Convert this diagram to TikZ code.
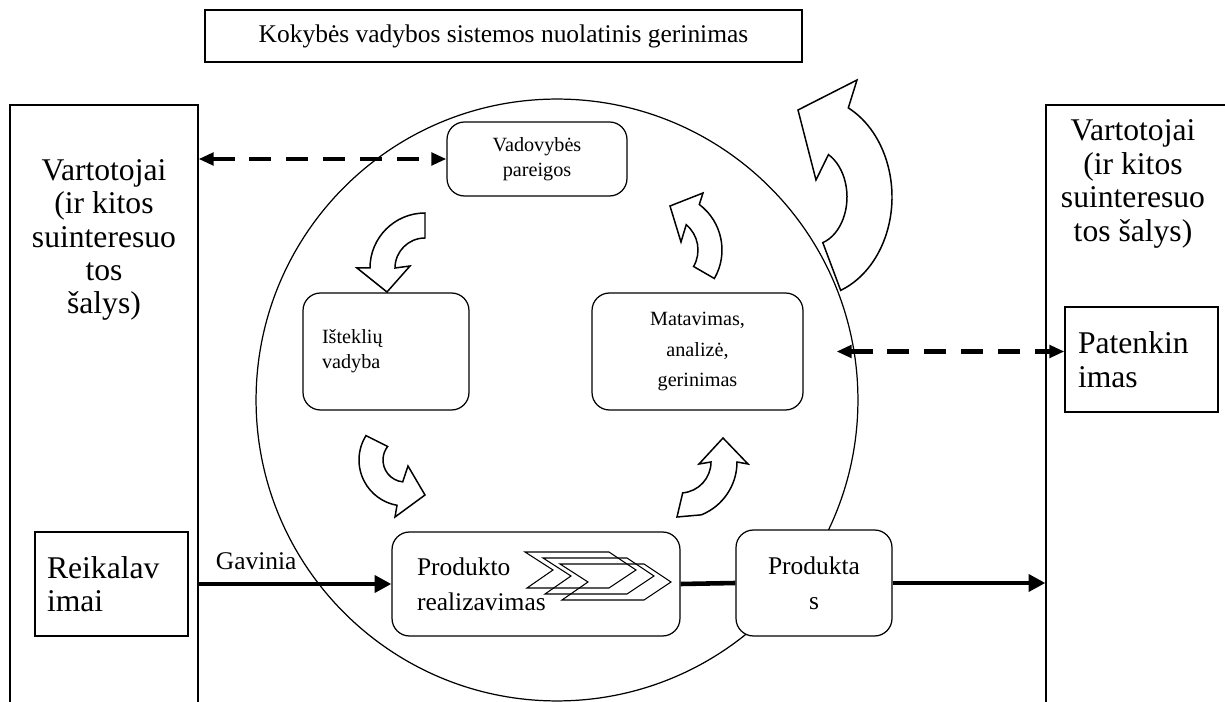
\documentclass[tikz,border=0pt]{standalone}
\usepackage{fontspec}
\setmainfont{Liberation Serif}
\usetikzlibrary{arrows.meta}

\begin{document}
\begin{tikzpicture}[x=0.02cm,y=-0.02cm,line width=0.7pt]
        \tikzstyle{box}=[draw,fill=white,rectangle]
        \tikzstyle{rbox}=[box,rounded corners=0.35cm]
        \tikzstyle{bigtext}=[font=\fontsize{18}{19}\selectfont]
        \tikzstyle{midtext}=[font=\fontsize{14.5}{20}\selectfont]
        \tikzstyle{smalltext}=[font=\fontsize{11.5}{14.2}\selectfont]
        \tikzstyle{blockarrow}=[draw,fill=white,line width=0.85pt]
        \tikzstyle{dashedarrow}=[line width=2.6pt,dash pattern=on 12.5pt off 8.5pt,>={Triangle[length=8.5pt,width=7pt]},<->]
        \tikzstyle{flow}=[line width=2.6pt,->,>={Triangle[length=9.5pt,width=9.5pt]}]
        \useasboundingbox (0,0) rectangle (1225,702);
        \clip (0,0) rectangle (1225,702);
        \node[circle,draw,minimum size=12.04cm] (ring) at (557,400) {};
        \node[box,midtext,minimum width=11.94cm,minimum height=1.04cm] (title) at (503.5,36) {Kokybės vadybos sistemos nuolatinis gerinimas};
        \node[draw,minimum width=3.76cm,minimum height=12.3cm] (custl) at (104,412.5) {};
        \node[bigtext,align=center] (custltxt) at (104,240) {Vartotojai\\(ir kitos\\suinteresuo\\tos\\šalys)};
        \node[draw,minimum width=3.88cm,minimum height=12.3cm] (custr) at (1143,412.5) {};
        \node[bigtext,align=center] (custrtxt) at (1133,184) {Vartotojai\\(ir kitos\\suinteresuo\\tos šalys)};
        \node[rbox,smalltext,align=center,minimum width=3.6cm,minimum height=1.48cm] (vad) at (537,159) {Vadovybės\\pareigos};
        \node[rbox,smalltext,align=left,text width=2.56cm,inner xsep=0.38cm,minimum height=2.34cm] (istek) at (386,351.5) {Išteklių\\vadyba};
        \node[rbox,font=\fontsize{11.5}{17.6}\selectfont,align=center,minimum width=4.22cm,minimum height=2.34cm] (mat) at (697.5,351.5) {Matavimas,\\analizė,\\gerinimas};
        \node[rbox,midtext,align=left,text width=4.76cm,inner xsep=0.5cm,minimum height=2.08cm] (prod) at (536,584) {Produkto\\realizavimas};
        \node[rbox,midtext,align=center,minimum width=3.12cm,minimum height=2.12cm] (produkt) at (814,583) {Produkta\\s};
        \node[box,bigtext,align=left,text width=2.58cm,inner xsep=0.24cm,minimum height=2.08cm] (reik) at (111.5,584) {Reikalav\\imai};
        \node[box,bigtext,align=left,text width=2.54cm,inner xsep=0.26cm,minimum height=2.1cm] (pat) at (1141.5,359.5) {Patenkin\\imas};
        % feedback with the parties
        \draw[dashedarrow] (custl.east |- vad.west) -- (vad.west);
        \draw[dashedarrow,shorten <=0.66cm] (mat.east) -- (mat.east -| pat.west);
        % product flow
        \draw[flow] (custl.east |- prod.west) -- (prod.west) node[midtext,pos=0,anchor=south west,xshift=0.3cm,yshift=0.24cm,inner sep=0pt] {Gavinia};
        \draw[line width=2.6pt] (prod.east) -- (produkt.west);
        \draw[flow] (produkt.east) -- (produkt.east -| custr.west);
        \foreach \dx/\dy in {0/0,18/6,35/12}
          \draw[line width=0.6pt,shift={(\dx,\dy)}] (525,552) -- (609,552) -- (636,570) -- (609,588) -- (527,588) -- (553,570) -- cycle;
        % curved arrows of the cycle
        \draw[blockarrow] (425,213) arc (-90:-180:55) -- (357,268) -- (387,292) -- (410,266) -- (395,268) arc (180:270:30) -- cycle;
        \draw[blockarrow] ([shift={(405,460)}]212:46) arc (212:100:46) -- (395,517) -- (425,495) -- (408,466) -- ([shift={(405,460)}]96:22) arc (96:218:22) -- cycle;
        \draw[blockarrow] (677,517) -- ([shift={(680,462)}]68:57) arc (68:0:57) -- (748,464) -- (723,438) -- (699,464) -- ([shift={(680,462)}]0:31) arc (0:85:31) -- cycle;
        \draw[blockarrow] ([shift={(665,250)}]30:57) arc (30:-53:57) -- (703,193) -- (670,206) -- (681,242) -- ([shift={(665,250)}]-50:33) arc (-50:30:33) -- cycle;
        \draw[blockarrow] (798,110) -- (857,80) -- ([shift={(812,197)}]-63:80 and 100) arc[start angle=-63,end angle=69,x radius=80,y radius=100] -- ([shift={(812,197)}]72:35 and 48) arc[start angle=72,end angle=-62,x radius=35,y radius=48] -- (816,180) -- cycle;
\end{tikzpicture}
\end{document}
